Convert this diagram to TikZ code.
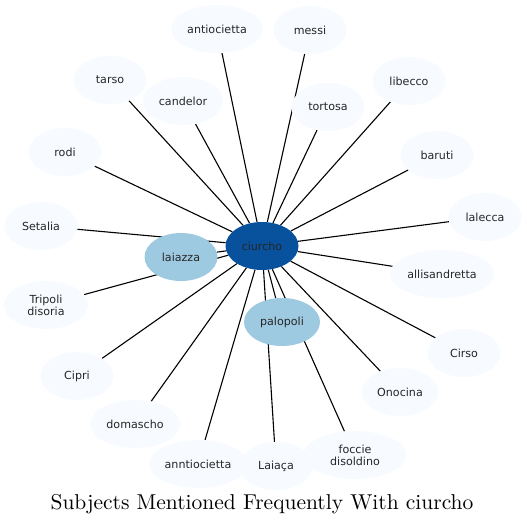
\documentclass[tikz,border=0pt]{standalone}
\usepackage{fontspec}
\newfontfamily\dvs{DejaVu Sans}
\newfontfamily\tfont{lmroman10-regular.otf}
\usetikzlibrary{shapes.geometric,backgrounds}
\definecolor{pale}{HTML}{F7FBFF}
\definecolor{mid}{HTML}{9ECAE1}
\definecolor{dark}{HTML}{08519C}
\tikzset{
  nd/.style={ellipse,inner sep=0pt,minimum height=48pt,minimum width=73pt,
    font=\dvs\fontsize{11.1}{12}\selectfont,align=center,text=black!85},
  lt/.style={nd,fill=pale},
  md/.style={nd,fill=mid},
  dk/.style={nd,fill=dark},
  ed/.style={line width=1.1pt,black},
}
\begin{document}
\begin{tikzpicture}[x=1pt,y=-1pt]
\useasboundingbox (0,0) rectangle (527,527);
\node[dk] (c) at (262,246) {ciurcho};
\node[lt,minimum width=92pt] (n1) at (217,29) {antiocietta};
\node[lt] (n2) at (310,30) {messi};
\node[lt] (n3) at (110,80) {tarso};
\node[lt,minimum width=80pt] (n4) at (183,101) {candelor};
\node[lt] (n5) at (328,107) {tortosa};
\node[lt] (n6) at (409,81) {libecco};
\node[lt] (n7) at (65,152) {rodi};
\node[lt] (n8) at (437,155) {baruti};
\node[lt] (n9) at (41,226) {Setalia};
\node[lt] (n10) at (485,217) {lalecca};
\node[md] (n11) at (181,257) {laiazza};
\node[lt,minimum width=104pt] (n12) at (442,274) {allisandretta};
\node[lt,minimum width=84pt] (n13) at (46,305) {Tripoli\\disoria};
\node[md,minimum width=76pt] (n14) at (282,322) {palopoli};
\node[lt] (n15) at (464,353) {Cirso};
\node[lt] (n16) at (77,376) {Cipri};
\node[lt,minimum width=76pt] (n17) at (400,392) {Onocina};
\node[lt,minimum width=90pt] (n18) at (135,424) {domascho};
\node[lt,minimum width=98pt] (n19) at (198,464) {anntiocietta};
\node[lt] (n20) at (276,466) {Laiaça};
\node[lt,minimum width=103pt] (n21) at (355,455) {foccie\\disoldino};
\begin{scope}[on background layer]
\foreach \i in {1,...,21} {\draw[ed] (c) -- (n\i);}
\end{scope}
\node[font=\tfont\fontsize{21.5}{25}\selectfont] (t) at (262,504) {Subjects Mentioned Frequently With ciurcho};
\end{tikzpicture}
\end{document}
